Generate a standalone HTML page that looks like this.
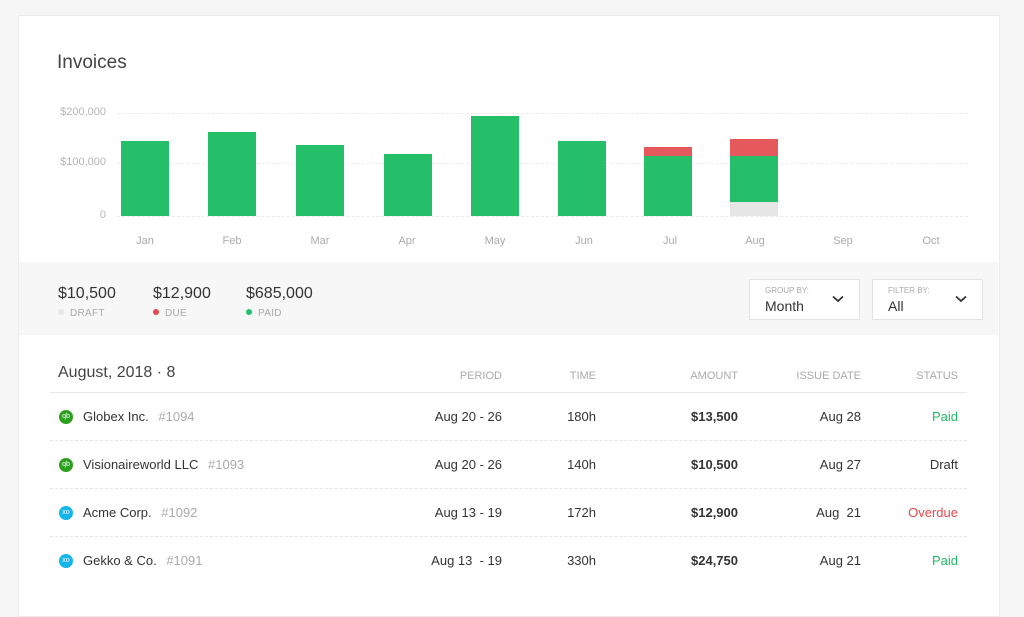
<!DOCTYPE html>
<html><head><style>
body{margin:0;width:1024px;height:589px;background:#f6f6f6;font-family:"Liberation Sans",sans-serif;overflow:hidden;position:relative}
.card{position:absolute;left:18px;top:15px;width:980px;height:600px;background:#fff;border:1px solid #ececec}
.a{position:absolute;white-space:nowrap}
.band{position:absolute;left:19px;top:262px;width:979px;height:73px;background:#f7f7f7}
.bar{position:absolute;width:48px}
.g{background:#24bf68}.r{background:#e5585c}.d{background:#e6e6e6}
.yl{position:absolute;right:918px;font-size:11px;color:#b5b5b5}
.xl{position:absolute;top:235px;font-size:11px;color:#aaa;width:60px;text-align:center}
.grid{position:absolute;left:117px;width:851px;border-top:1px dashed #ececec}
.big{font-size:16px;color:#333}
.sm{font-size:10px;color:#aaa;letter-spacing:.3px}
.dot{display:inline-block;width:6px;height:6px;border-radius:3px;margin-right:6px;vertical-align:1px}
.sel{position:absolute;top:279px;height:39px;background:#fff;border:1px solid #e3e3e3}
.th{position:absolute;top:370px;font-size:11px;color:#aaa;text-align:right}
.row{font-size:13px;color:#333}
.c{position:absolute;text-align:right;font-size:13px;color:#333}
.ic{position:absolute;left:59px;width:14px;height:14px;border-radius:7px;color:#fff;font-size:7px;text-align:center;line-height:14px}
.sep{position:absolute;left:50px;width:917px;border-top:1px dashed #e6e6e6}
</style></head><body>
<div class="card"></div>
<div class="a" style="left:57px;top:52px;font-size:19px;color:#444">Invoices</div>
<div class="grid" style="top:113px"></div><div class="grid" style="top:163px"></div><div class="grid" style="top:216px"></div>
<div class="yl" style="top:106px">$200,000</div><div class="yl" style="top:156px">$100,000</div><div class="yl" style="top:209px">0</div>
<div class="bar g" style="left:121px;top:141px;height:75px"></div>
<div class="bar g" style="left:208px;top:132px;height:84px"></div>
<div class="bar g" style="left:296px;top:145px;height:71px"></div>
<div class="bar g" style="left:384px;top:154px;height:62px"></div>
<div class="bar g" style="left:471px;top:116px;height:100px"></div>
<div class="bar g" style="left:558px;top:141px;height:75px"></div>
<div class="bar r" style="left:644px;top:147px;height:9px"></div>
<div class="bar g" style="left:644px;top:156px;height:60px"></div>
<div class="bar r" style="left:730px;top:139px;height:17px"></div>
<div class="bar g" style="left:730px;top:156px;height:46px"></div>
<div class="bar d" style="left:730px;top:202px;height:14px"></div>
<div class="xl" style="left:115px">Jan</div><div class="xl" style="left:202px">Feb</div><div class="xl" style="left:290px">Mar</div><div class="xl" style="left:377px">Apr</div><div class="xl" style="left:465px">May</div><div class="xl" style="left:554px">Jun</div><div class="xl" style="left:640px">Jul</div><div class="xl" style="left:725px">Aug</div><div class="xl" style="left:813px">Sep</div><div class="xl" style="left:901px">Oct</div>
<div class="band"></div>
<div class="a big" style="left:58px;top:285px">$10,500</div>
<div class="a sm" style="left:58px;top:308px"><span class="dot" style="background:#e6e6e6"></span>DRAFT</div>
<div class="a big" style="left:153px;top:285px">$12,900</div>
<div class="a sm" style="left:153px;top:308px"><span class="dot" style="background:#e5484d"></span>DUE</div>
<div class="a big" style="left:246px;top:285px">$685,000</div>
<div class="a sm" style="left:246px;top:308px"><span class="dot" style="background:#24bf68"></span>PAID</div>
<div class="sel" style="left:749px;width:109px"><div class="a" style="left:15px;top:6px;font-size:8px;color:#aaa">GROUP BY:</div><div class="a" style="left:15px;top:18px;font-size:14px;color:#333">Month</div><svg class="a" style="left:82px;top:15px" width="12" height="8"><path d="M1 1.5L6 6L11 1.5" stroke="#333" stroke-width="1.8" fill="none"/></svg></div>
<div class="sel" style="left:872px;width:109px"><div class="a" style="left:15px;top:6px;font-size:8px;color:#aaa">FILTER BY:</div><div class="a" style="left:15px;top:18px;font-size:14px;color:#333">All</div><svg class="a" style="left:82px;top:15px" width="12" height="8"><path d="M1 1.5L6 6L11 1.5" stroke="#333" stroke-width="1.8" fill="none"/></svg></div>
<div class="a" style="left:58px;top:364px;font-size:16px;color:#444">August, 2018 · 8</div>
<div class="th" style="right:522px">PERIOD</div><div class="th" style="right:428px">TIME</div><div class="th" style="right:286px">AMOUNT</div><div class="th" style="right:163px">ISSUE DATE</div><div class="th" style="right:66px">STATUS</div>
<div class="sep" style="top:392px;border-top:1px solid #e8e8e8"></div>
<div class="sep" style="top:440px"></div><div class="sep" style="top:488px"></div><div class="sep" style="top:536px"></div>

<div class="ic" style="top:410px;background:#2ca01c">qb</div>
<div class="a row" style="left:83px;top:409px">Globex Inc. <span style="color:#aaa;margin-left:6px">#1094</span></div>
<div class="c" style="right:522px;top:409px">Aug 20 - 26</div><div class="c" style="right:428px;top:409px">180h</div><div class="c" style="right:286px;top:409px;font-weight:bold">$13,500</div><div class="c" style="right:163px;top:409px">Aug 28</div><div class="c" style="right:66px;top:409px;color:#24b866">Paid</div>

<div class="ic" style="top:458px;background:#2ca01c">qb</div>
<div class="a row" style="left:83px;top:457px">Visionaireworld LLC <span style="color:#aaa;margin-left:6px">#1093</span></div>
<div class="c" style="right:522px;top:457px">Aug 20 - 26</div><div class="c" style="right:428px;top:457px">140h</div><div class="c" style="right:286px;top:457px;font-weight:bold">$10,500</div><div class="c" style="right:163px;top:457px">Aug 27</div><div class="c" style="right:66px;top:457px">Draft</div>

<div class="ic" style="top:506px;background:#13b5ea">xo</div>
<div class="a row" style="left:83px;top:505px">Acme Corp. <span style="color:#aaa;margin-left:6px">#1092</span></div>
<div class="c" style="right:522px;top:505px">Aug 13 - 19</div><div class="c" style="right:428px;top:505px">172h</div><div class="c" style="right:286px;top:505px;font-weight:bold">$12,900</div><div class="c" style="right:163px;top:505px">Aug &nbsp;21</div><div class="c" style="right:66px;top:505px;color:#e5484d">Overdue</div>

<div class="ic" style="top:554px;background:#13b5ea">xo</div>
<div class="a row" style="left:83px;top:553px">Gekko &amp; Co. <span style="color:#aaa;margin-left:6px">#1091</span></div>
<div class="c" style="right:522px;top:553px">Aug 13 &nbsp;- 19</div><div class="c" style="right:428px;top:553px">330h</div><div class="c" style="right:286px;top:553px;font-weight:bold">$24,750</div><div class="c" style="right:163px;top:553px">Aug 21</div><div class="c" style="right:66px;top:553px;color:#24b866">Paid</div>
</body></html>
